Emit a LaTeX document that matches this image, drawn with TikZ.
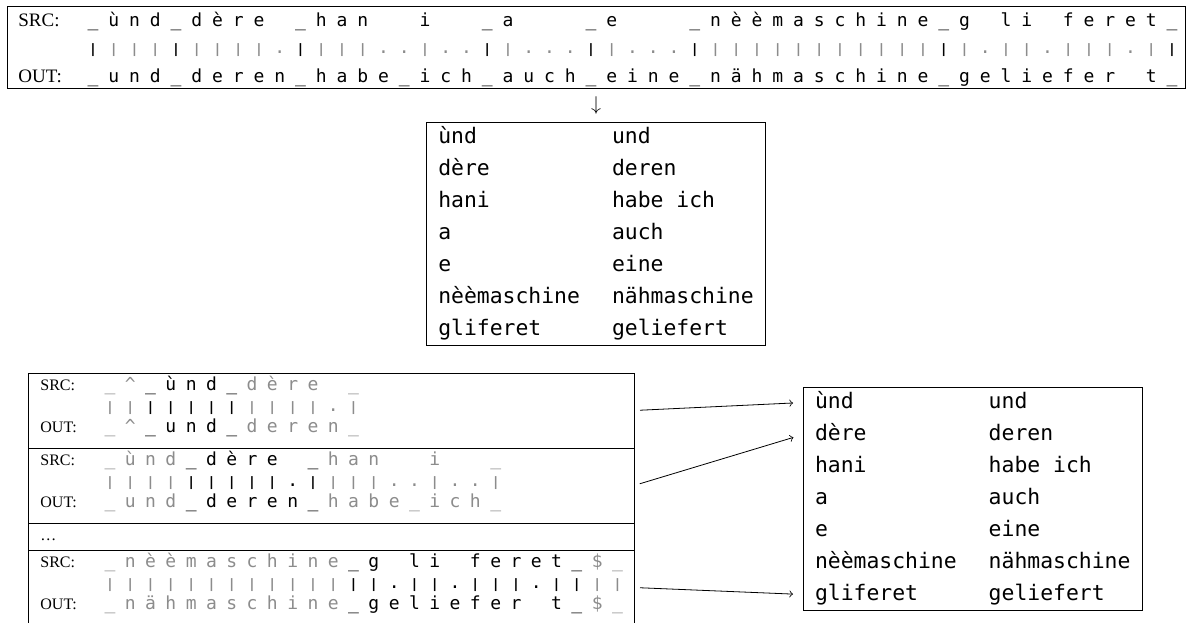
\documentclass[tikz,border=0pt]{standalone}
\usepackage{fontspec}
\setmainfont{Liberation Serif}
\newfontfamily\gridfont{DejaVu Sans Mono}
\usetikzlibrary{matrix,positioning}

\newcommand\pipe{\scalebox{1}[0.72]{|}}

% one row of aligned characters: black from column #5 to #6, grey elsewhere
\newcommand\gridrow[7]{%
  \foreach \tok [count=\col] in {#7}{%
    \def\cellcolor{black!45}%
    \ifnum\col<#5\relax\else\ifnum\col>#6\relax\else\def\cellcolor{black}\fi\fi
    \node[chr, text=\cellcolor] (#1\col) at ({#2+(\col-1)*#3},#4) {\tok};
  }}
% the match row under it: | for a match, . for a gap
\newcommand\barrow[7]{%
  \foreach \tok [count=\col] in {#7}{%
    \def\cellcolor{black!45}%
    \ifnum\col<#5\relax\else\ifnum\col>#6\relax\else\def\cellcolor{black}\fi\fi
    \if .\tok
      \node[chr, text=\cellcolor] (#1\col) at ({#2+(\col-1)*#3},#4) {.};
    \else
      \node[chr, text=\cellcolor] (#1\col) at ({#2+(\col-1)*#3},#4) {\pipe};
    \fi
  }}

\begin{document}
\begin{tikzpicture}[x=0.5pt, y=-0.5pt, >=to,
    frame/.style={draw, inner sep=0pt, outer sep=0pt},
    lbl/.style={anchor=base west, inner sep=0pt},
    biglbl/.style={lbl, font=\fontsize{9.5}{11}\selectfont},
    smalllbl/.style={lbl, font=\fontsize{8}{10}\selectfont},
    chr/.style={anchor=base, inner sep=0pt, font=\gridfont\fontsize{9}{10}\selectfont},
    dim/.style={text=black!45},
    tbl/.style={matrix of nodes, draw, inner xsep=6pt, inner ysep=2.5pt, outer sep=0pt,
      column sep=16pt, row sep=5.5pt,
      nodes={anchor=west, inner sep=0pt, text height=8pt, text depth=2.5pt,
        font=\gridfont\fontsize{10.7}{13}\selectfont}},
    link/.style={->, shorten <=3pt, shorten >=5pt}]

  \useasboundingbox (0,0) rectangle (1186,622);

  % full alignment
  \node[frame, anchor=north west, minimum width=589pt, minimum height=41pt] (top) at (7,6) {};
  \node[biglbl] (tsrc) at (18,26) {SRC:};
  \node[biglbl] (tout) at (18,82) {OUT:};
  \gridrow{ts}{93}{20.75}{26}{1}{53}{\_,ù,n,d,\_,d,è,r,e,{},\_,h,a,n,{},{},i,{},{},\_,a,{},{},{},\_,e,{},{},{},\_,n,è,è,m,a,s,c,h,i,n,e,\_,g,{},l,i,{},f,e,r,e,t,\_}
  \foreach \tok [count=\col] in {B,|,|,|,B,|,|,|,|,.,B,|,|,|,.,.,|,.,.,B,|,.,.,.,B,|,.,.,.,B,|,|,|,|,|,|,|,|,|,|,|,B,|,.,|,|,.,|,|,|,.,|,B}{%
    \if B\tok
      \node[chr] (tp\col) at ({93+(\col-1)*20.75},53) {\pipe};
    \else\if .\tok
      \node[chr, dim] (tp\col) at ({93+(\col-1)*20.75},53) {.};
    \else
      \node[chr, dim] (tp\col) at ({93+(\col-1)*20.75},53) {\pipe};
    \fi\fi
  }
  \gridrow{to}{93}{20.75}{82}{1}{53}{\_,u,n,d,\_,d,e,r,e,n,\_,h,a,b,e,\_,i,c,h,\_,a,u,c,h,\_,e,i,n,e,\_,n,ä,h,m,a,s,c,h,i,n,e,\_,g,e,l,i,e,f,e,r,{},t,\_}

  \node[inner sep=0pt, below=4pt of top] (down) {$\downarrow$};

  \matrix (mt) [tbl, below=4pt of down] {
    ùnd & und \\
    dère & deren \\
    hani & habe ich \\
    a & auch \\
    e & eine \\
    nèèmaschine & nähmaschine \\
    gliferet & geliefert \\
  };

  % windows
  \node[frame, anchor=north west, minimum width=303pt, minimum height=37.5pt] (b1) at (28,373) {};
  \node[frame, below=0pt of b1, minimum width=303pt, minimum height=37.5pt] (b2) {};
  \node[frame, below=0pt of b2, minimum width=303pt, minimum height=13.5pt] (bd) {};
  \node[frame, below=0pt of bd, minimum width=303pt, minimum height=37.5pt] (b3) {};

  \node[smalllbl] (w1src) at (40,390) {SRC:};
  \node[smalllbl] (w1out) at (40,432) {OUT:};
  \gridrow{as}{110}{20.3}{390}{3}{7}{\_,\textasciicircum,\_,ù,n,d,\_,d,è,r,e,{},\_}
  \barrow{ap}{110}{20.3}{411}{3}{7}{|,|,|,|,|,|,|,|,|,|,|,.,|}
  \gridrow{ao}{110}{20.3}{432}{3}{7}{\_,\textasciicircum,\_,u,n,d,\_,d,e,r,e,n,\_}

  \node[smalllbl] (w2src) at (40,465) {SRC:};
  \node[smalllbl] (w2out) at (40,507) {OUT:};
  \gridrow{bs}{110}{20.3}{465}{5}{11}{\_,ù,n,d,\_,d,è,r,e,{},\_,h,a,n,{},{},i,{},{},\_}
  \barrow{bp}{110}{20.3}{486}{5}{11}{|,|,|,|,|,|,|,|,|,.,|,|,|,|,.,.,|,.,.,|}
  \gridrow{bo}{110}{20.3}{507}{5}{11}{\_,u,n,d,\_,d,e,r,e,n,\_,h,a,b,e,\_,i,c,h,\_}

  \node[smalllbl] (wdots) at (40,540) {\dots};

  \node[smalllbl] (w3src) at (40,567) {SRC:};
  \node[smalllbl] (w3out) at (40,609) {OUT:};
  \gridrow{cs}{110}{20.3}{567}{13}{24}{\_,n,è,è,m,a,s,c,h,i,n,e,\_,g,{},l,i,{},f,e,r,e,t,\_,\$,\_}
  \barrow{cp}{110}{20.3}{588}{13}{24}{|,|,|,|,|,|,|,|,|,|,|,|,|,|,.,|,|,.,|,|,|,.,|,|,|,|}
  \gridrow{co}{110}{20.3}{609}{13}{24}{\_,n,ä,h,m,a,s,c,h,i,n,e,\_,g,e,l,i,e,f,e,r,{},t,\_,\$,\_}

  \matrix (rt) [tbl, anchor=north west] at (803,387) {
    ùnd & und \\
    dère & deren \\
    hani & habe ich \\
    a & auch \\
    e & eine \\
    nèèmaschine & nähmaschine \\
    gliferet & geliefert \\
  };

  \draw[link] (b1.east) -- (rt.west |- rt-1-1);
  \draw[link] (b2.east) -- (rt.west |- rt-2-1);
  \draw[link] (b3.east) -- (rt.west |- rt-7-1);
\end{tikzpicture}
\end{document}
